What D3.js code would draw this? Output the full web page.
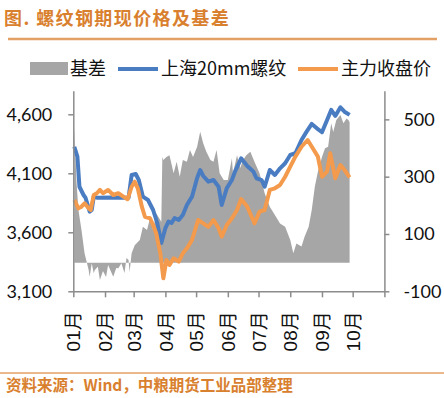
<!DOCTYPE html>
<html><head><meta charset="utf-8">
<script src="https://cdn.jsdelivr.net/npm/d3@7"></script>
<style>
html,body{margin:0;padding:0;background:#fff;}
svg{display:block;}
</style></head>
<body>
<svg id="c" width="444" height="398"></svg>
<script>
// ---------- DATA ----------
const xTickLabels = ["01月","02月","03月","04月","05月","06月","07月","08月","09月","10月"];
const leftTicks = [3100, 3600, 4100, 4600];
const rightTicks = [-100, 100, 300, 500];
const seriesNames = ["基差", "上海20mm螺纹", "主力收盘价"];

const spotDates = ["2018-01-02","2018-01-05","2018-01-07","2018-01-11","2018-01-13","2018-01-17","2018-01-19","2018-01-21","2018-01-24","2018-02-08","2018-02-24",
"2018-02-27","2018-03-03","2018-03-06","2018-03-10","2018-03-15","2018-03-20","2018-03-24","2018-03-28","2018-04-01","2018-04-04","2018-04-07","2018-04-10",
"2018-04-14","2018-04-18","2018-04-22","2018-04-27","2018-05-02","2018-05-05","2018-05-08","2018-05-13","2018-05-18","2018-05-23","2018-05-26","2018-05-31",
"2018-06-05","2018-06-08","2018-06-14","2018-06-20","2018-06-26","2018-06-29","2018-07-04","2018-07-07","2018-07-12","2018-07-17","2018-07-22","2018-07-27",
"2018-08-01","2018-08-06","2018-08-12","2018-08-17","2018-08-22","2018-08-27","2018-09-01","2018-09-06","2018-09-10","2018-09-14","2018-09-19","2018-09-23","2018-09-28"];
const spotValues = [4325,4241,3986,3916,3891,3775,3789,3902,3893,3895,3893,
4086,4094,4043,3902,3874,3789,3679,3510,3636,3690,3679,3721,
3704,3747,3831,3902,4060,4128,4077,4029,4043,3986,3831,3975,
4043,4114,4227,4162,4114,4058,4043,3986,4128,4086,4142,4185,
4255,4270,4382,4453,4518,4481,4448,4552,4637,4586,4659,4622,4595];

const futDates = ["2018-01-02","2018-01-06","2018-01-09","2018-01-12","2018-01-16","2018-01-18","2018-01-21","2018-01-24","2018-01-27","2018-01-30","2018-02-04",
"2018-02-09","2018-02-14","2018-02-19","2018-02-23","2018-02-27","2018-03-02","2018-03-05","2018-03-09","2018-03-12","2018-03-17","2018-03-20","2018-03-23",
"2018-03-27","2018-03-30","2018-04-02","2018-04-05","2018-04-09","2018-04-14","2018-04-18","2018-04-22","2018-04-27","2018-05-03","2018-05-08","2018-05-13",
"2018-05-18","2018-05-23","2018-05-26","2018-05-31","2018-06-05","2018-06-10","2018-06-14","2018-06-20","2018-06-27","2018-07-02","2018-07-07","2018-07-12",
"2018-07-17","2018-07-22","2018-07-27","2018-08-01","2018-08-06","2018-08-12","2018-08-18","2018-08-23","2018-08-28","2018-09-01","2018-09-06","2018-09-09",
"2018-09-14","2018-09-19","2018-09-23","2018-09-28"];
const futValues = [3874,3803,3817,3846,3803,3789,3916,3931,3959,3931,3959,
3916,3931,3902,3880,3986,4029,3973,3817,3732,3719,3662,3592,
3422,3210,3365,3323,3380,3351,3422,3464,3535,3704,3676,3647,
3704,3634,3563,3662,3719,3789,3882,3817,3676,3775,3789,3959,
3973,4001,4071,4156,4241,4325,4382,4312,4241,4071,4114,4270,
4058,4170,4128,4066];

const basisDates = ["2018-01-02","2018-01-04","2018-01-06","2018-01-09","2018-01-12","2018-01-16","2018-01-17","2018-01-19","2018-01-21","2018-01-22","2018-01-25",
"2018-01-27","2018-01-30","2018-02-02","2018-02-04","2018-02-07","2018-02-09","2018-02-12","2018-02-14","2018-02-17","2018-02-20","2018-02-22","2018-02-24",
"2018-02-25","2018-02-27","2018-03-02","2018-03-07","2018-03-10","2018-03-14","2018-03-17","2018-03-20","2018-03-23","2018-03-27","2018-03-28","2018-03-29",
"2018-03-30","2018-04-02","2018-04-05","2018-04-09","2018-04-12","2018-04-15","2018-04-18","2018-04-22","2018-04-25","2018-04-28","2018-05-02","2018-05-05",
"2018-05-08","2018-05-11","2018-05-15","2018-05-18","2018-05-21","2018-05-24","2018-05-28","2018-06-01","2018-06-05","2018-06-06","2018-06-10","2018-06-13",
"2018-06-16","2018-06-19","2018-06-23","2018-06-27","2018-07-02","2018-07-07","2018-07-12","2018-07-17","2018-07-22","2018-07-27","2018-08-01","2018-08-04",
"2018-08-07","2018-08-12","2018-08-15","2018-08-19","2018-08-22","2018-08-25","2018-08-28","2018-09-01","2018-09-04","2018-09-07","2018-09-10","2018-09-12",
"2018-09-15","2018-09-19","2018-09-22","2018-09-25","2018-09-27","2018-09-28"];
const basisValues = [473,288,184,114,33,-26,-49,-2,-37,-26,-14,
-61,-29,-50,-8,-33,-49,-19,-20,-2,-36,16,9,
-33,33,61,79,125,114,155,114,172,149,142,369,
358,369,375,312,352,300,358,352,393,369,404,457,
416,387,358,352,393,312,288,288,364,312,375,330,
358,375,387,352,312,242,195,166,137,125,79,33,
67,56,90,125,184,265,317,369,399,404,486,456,
498,515,486,503,497,490];

// ---------- CHART ----------
(function () {
const parse = d3.timeParse("%Y-%m-%d");
const svg = d3.select("#c");
const pL = 73.3, pR = 384.4, pT = 90.7, pB = 291.3;
const accent = "#D9802E";
const axisCol = "#8c8c8c";
const blue = "#4A7CC2", orange = "#F39A4C", gray = "#A6A6A6";
const numFont = "Lato, 'Liberation Sans', sans-serif";
const cjkFont = "'Noto Sans CJK SC', sans-serif";

const x = d3.scaleTime().domain([new Date(2018,0,1), new Date(2018,10,1)]).range([pL, pR]);
const yL = d3.scaleLinear().domain([3100, 4800]).range([pB, pT]);
const yR = d3.scaleLinear().domain([-100, 600]).range([pB, pT]);

// title
svg.append("text").attr("x", 4).attr("y", 25).text("图. 螺纹钢期现价格及基差")
  .attr("font-family", cjkFont).attr("font-weight", "bold").attr("font-size", 18)
  .attr("letter-spacing", 1.4).attr("fill", accent);
svg.append("line").attr("x1", 8).attr("x2", 437).attr("y1", 39).attr("y2", 39)
  .attr("stroke", "#E3A064").attr("stroke-width", 2.5);

// footer
svg.append("line").attr("x1", 0).attr("x2", 444).attr("y1", 373).attr("y2", 373)
  .attr("stroke", "#E3A064").attr("stroke-width", 1.5);
svg.append("text").attr("x", 6).attr("y", 391).text("资料来源：Wind，中粮期货工业品部整理")
  .attr("font-family", cjkFont).attr("font-weight", "bold").attr("font-size", 15.5)
  .attr("fill", accent);

// basis area
const basis = basisDates.map((d, i) => ({date: parse(d), v: basisValues[i]}));
svg.append("path").datum(basis)
  .attr("d", d3.area().x(d => x(d.date)).y0(yR(0)).y1(d => yR(d.v)))
  .attr("fill", gray);

// lines
const spot = spotDates.map((d, i) => ({date: parse(d), v: spotValues[i]}));
const fut = futDates.map((d, i) => ({date: parse(d), v: futValues[i]}));
const line = d3.line().x(d => x(d.date)).y(d => yL(d.v));
svg.append("path").datum(spot).attr("d", line).attr("fill", "none")
  .attr("stroke", blue).attr("stroke-width", 4).attr("stroke-linejoin", "round");
svg.append("path").datum(fut).attr("d", line).attr("fill", "none")
  .attr("stroke", orange).attr("stroke-width", 4).attr("stroke-linejoin", "round");

// axes
function styleAxis(g) {
  g.select(".domain").attr("stroke", axisCol).attr("stroke-width", 1.5);
  g.selectAll(".tick line").attr("stroke", axisCol).attr("stroke-width", 1.5);
  g.selectAll(".tick text").attr("fill", "#111").attr("font-family", numFont).attr("font-size", 18);
}
const gL = svg.append("g").attr("transform", `translate(${pL},0)`)
  .call(d3.axisLeft(yL).tickValues(leftTicks).tickFormat(d3.format(",")).tickSize(5).tickSizeOuter(0).tickPadding(16));
styleAxis(gL);

const gR = svg.append("g").attr("transform", `translate(${pR},0)`)
  .call(d3.axisRight(yR).tickValues(rightTicks).tickFormat(d => String(d)).tickSize(5).tickSizeOuter(0).tickPadding(14));
styleAxis(gR);

const months = d3.range(0, 11).map(m => new Date(2018, m, 1));
const gB = svg.append("g").attr("transform", `translate(0,${pB})`)
  .call(d3.axisBottom(x).tickValues(months).tickFormat((d, i) => xTickLabels[i] || "").tickSize(6).tickSizeOuter(0));
styleAxis(gB);
gB.selectAll(".tick text")
  .attr("transform", "rotate(-90)")
  .attr("text-anchor", "end")
  .attr("x", -20).attr("y", 0).attr("dy", "0.35em")
  .attr("font-family", "'Liberation Sans', 'Noto Sans CJK SC', sans-serif").attr("font-size", 19);

// legend
const lg = svg.append("g").attr("font-family", cjkFont).attr("font-size", 18).attr("fill", "#111");
lg.append("rect").attr("x", 30).attr("y", 62).attr("width", 38).attr("height", 13).attr("fill", gray);
lg.append("text").attr("x", 70).attr("y", 68.5).attr("dy", "0.35em").text(seriesNames[0]);
lg.append("line").attr("x1", 118).attr("x2", 158).attr("y1", 69).attr("y2", 69).attr("stroke", blue).attr("stroke-width", 4);
lg.append("text").attr("x", 161).attr("y", 68.5).attr("dy", "0.35em").text(seriesNames[1]);
lg.append("line").attr("x1", 298).attr("x2", 338).attr("y1", 69).attr("y2", 69).attr("stroke", orange).attr("stroke-width", 4);
lg.append("text").attr("x", 341).attr("y", 68.5).attr("dy", "0.35em").text(seriesNames[2]);
})();
</script>
</body></html>
